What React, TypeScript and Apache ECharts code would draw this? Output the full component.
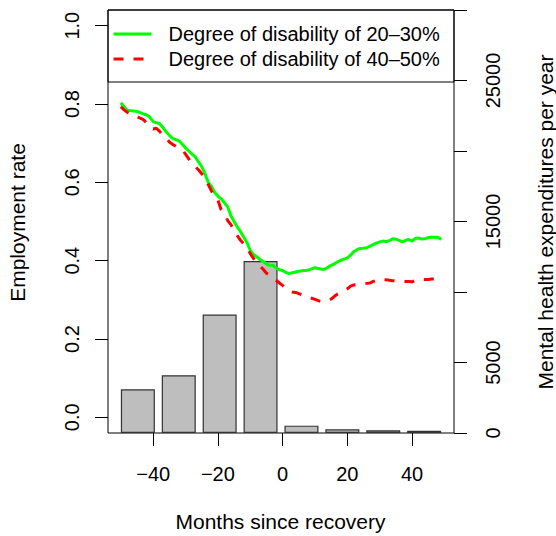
import React, { useEffect, useRef } from "react";
import * as echarts from "echarts";

const months = Array.from({ length: 100 }, (_, i) => i - 50);

const green = [
  0.803, 0.793, 0.784, 0.783, 0.782, 0.781, 0.778, 0.775, 0.772, 0.766,
  0.755, 0.752, 0.750, 0.740, 0.729, 0.720, 0.712, 0.709, 0.706, 0.697,
  0.688, 0.680, 0.672, 0.665, 0.652, 0.640, 0.622, 0.600, 0.590, 0.574,
  0.565, 0.558, 0.548, 0.538, 0.515, 0.500, 0.486, 0.474, 0.460, 0.446,
  0.426, 0.416, 0.410, 0.403, 0.398, 0.392, 0.388, 0.388, 0.381, 0.377,
  0.375, 0.370, 0.367, 0.369, 0.371, 0.373, 0.374, 0.375, 0.376, 0.379,
  0.382, 0.380, 0.378, 0.378, 0.383, 0.388, 0.392, 0.397, 0.401, 0.404,
  0.407, 0.414, 0.423, 0.428, 0.431, 0.432, 0.433, 0.437, 0.441, 0.445,
  0.448, 0.450, 0.449, 0.451, 0.456, 0.455, 0.452, 0.448, 0.452, 0.454,
  0.450, 0.457, 0.458, 0.455, 0.456, 0.459, 0.460, 0.460, 0.460, 0.454,
];

const red = [
  0.793, 0.785, 0.779, 0.774, 0.770, 0.767, 0.764, 0.760, 0.751, 0.741,
  0.736, 0.738, 0.730, 0.720, 0.712, 0.703, 0.697, 0.692, 0.687, 0.683,
  0.672, 0.660, 0.647, 0.640, 0.632, 0.622, 0.613, 0.595, 0.578, 0.564,
  0.555, 0.530, 0.520, 0.503, 0.492, 0.480, 0.464, 0.452, 0.443, 0.433,
  0.418, 0.406, 0.394, 0.386, 0.378, 0.368, 0.363, 0.357, 0.350, 0.343,
  0.337, 0.327, 0.323, 0.320, 0.319, 0.316, 0.313, 0.310, 0.307, 0.304,
  0.301, 0.298, 0.295, 0.298, 0.300, 0.302, 0.309, 0.315, 0.319, 0.323,
  0.328, 0.335, 0.338, 0.339, 0.340, 0.341, 0.342, 0.343, 0.347, 0.350,
  0.353, 0.352, 0.351, 0.350, 0.349, 0.348, 0.348, 0.348, 0.347, 0.347,
  0.346, 0.350, 0.353, 0.352, 0.352, 0.352, 0.353, 0.353, 0.350, 0.340,
];

const barPositions = [0.7, 1.9, 3.1, 4.3, 5.5, 6.7, 7.9, 9.1];
const barValues = [3100, 4100, 8400, 12200, 520, 260, 190, 165];

const xTicks = [-40, -20, 0, 20, 40];
const leftTicks = [0, 0.2, 0.4, 0.6, 0.8, 1.0];
const rightTicks = [0, 5000, 10000, 15000, 20000, 25000, 30000];
const rightLabels = [0, 5000, 15000, 25000];

const seriesNames = [
  "Degree of disability of 20–30%",
  "Degree of disability of 40–50%",
];
const xTitle = "Months since recovery";
const leftTitle = "Employment rate";
const rightTitle = "Mental health expenditures per year";

const FONT = "'Liberation Sans', Arial, Helvetica, sans-serif";

export default function App() {
  const ref = useRef<HTMLDivElement>(null);
  useEffect(() => {
    if (!ref.current) return;
    const chart = echarts.init(ref.current, null, { renderer: "svg" });
    const L = 108, R = 454, T = 10, B = 433;
    const option = {
      animation: false,
      backgroundColor: "#ffffff",
      textStyle: { fontFamily: FONT },
      grid: {
        left: L,
        right: 556 - R,
        top: T,
        bottom: 536 - B,
        show: true,
        borderColor: "#000",
        borderWidth: 1,
        backgroundColor: "transparent",
      },
      legend: {
        orient: "vertical",
        left: 112,
        top: 24,
        padding: 0,
        itemWidth: 38,
        itemHeight: 20,
        itemGap: 5,
        textStyle: {
          fontSize: 20,
          color: "#000",
          fontFamily: FONT,
          padding: [0, 0, 0, 12],
        },
        itemStyle: { opacity: 0 },
        lineStyle: { width: 3 },
        data: seriesNames,
      },
      xAxis: [
        {
          type: "value",
          min: -53.96,
          max: 52.96,
          position: "bottom",
          axisLine: { show: false, onZero: false },
          splitLine: { show: false },
          axisTick: {
            show: true,
            length: 13,
            customValues: xTicks,
            lineStyle: { color: "#000", width: 1 },
          },
          axisLabel: {
            customValues: xTicks,
            fontSize: 20,
            color: "#000",
            fontFamily: FONT,
            margin: 31,
            formatter: (v: number) => (v < 0 ? "\u2212" + Math.abs(v) : String(v)),
          },
        },
        {
          type: "value",
          min: -0.176,
          max: 9.976,
          show: false,
          axisLine: { show: false, onZero: false },
        },
      ],
      yAxis: [
        {
          type: "value",
          min: -0.04,
          max: 1.04,
          position: "left",
          axisLine: { show: false, onZero: false },
          splitLine: { show: false },
          axisTick: {
            show: true,
            length: 13,
            customValues: leftTicks,
            lineStyle: { color: "#000", width: 1 },
          },
          axisLabel: {
            customValues: leftTicks,
            rotate: 90,
            align: "center",
            verticalAlign: "middle",
            fontSize: 20,
            color: "#000",
            fontFamily: FONT,
            margin: 36,
            formatter: (v: number) => v.toFixed(1),
          },
        },
        {
          type: "value",
          min: 0,
          max: 30000,
          position: "right",
          axisLine: { show: false, onZero: false },
          splitLine: { show: false },
          axisTick: {
            show: true,
            length: 13,
            customValues: rightTicks,
            lineStyle: { color: "#000", width: 1 },
          },
          axisLabel: {
            customValues: rightLabels,
            rotate: 90,
            align: "center",
            verticalAlign: "middle",
            fontSize: 20,
            color: "#000",
            fontFamily: FONT,
            margin: 39,
            formatter: (v: number) => String(v),
          },
        },
      ],
      series: [
        {
          type: "bar",
          xAxisIndex: 1,
          yAxisIndex: 1,
          barWidth: 34,
          z: 1,
          itemStyle: { color: "#bebebe", borderColor: "#333", borderWidth: 1.2 },
          data: barPositions.map((p, i) => [p, barValues[i]]),
        },
        {
          name: seriesNames[0],
          type: "line",
          xAxisIndex: 0,
          yAxisIndex: 0,
          symbol: "none",
          z: 3,
          lineStyle: { color: "#00ff00", width: 3 },
          itemStyle: { color: "#00ff00" },
          data: months.map((m, i) => [m, green[i]]),
        },
        {
          name: seriesNames[1],
          type: "line",
          xAxisIndex: 0,
          yAxisIndex: 0,
          symbol: "none",
          z: 3,
          lineStyle: { color: "#ff0000", width: 3, type: [10, 10] },
          itemStyle: { color: "#ff0000" },
          data: months.map((m, i) => [m, red[i]]),
        },
      ],
      graphic: [
        {
          type: "rect",
          shape: { x: L, y: T, width: R - L, height: 72 },
          style: { fill: "none", stroke: "#000", lineWidth: 1 },
          z: 10,
        },
        {
          type: "text",
          x: 280.5,
          y: 521.5,
          style: {
            text: xTitle,
            fontSize: 21,
            fontFamily: FONT,
            fill: "#000",
            align: "center",
            verticalAlign: "middle",
          },
        },
        {
          type: "text",
          x: 17.5,
          y: 222.5,
          rotation: Math.PI / 2,
          style: {
            text: leftTitle,
            fontSize: 21,
            fontFamily: FONT,
            fill: "#000",
            align: "center",
            verticalAlign: "middle",
          },
        },
        {
          type: "text",
          x: 545,
          y: 222,
          rotation: Math.PI / 2,
          style: {
            text: rightTitle,
            fontSize: 21,
            fontFamily: FONT,
            fill: "#000",
            align: "center",
            verticalAlign: "middle",
          },
        },
      ],
    };
    chart.setOption(option as any);
    return () => chart.dispose();
  }, []);
  return (
    <div
      ref={ref}
      style={{ position: "fixed", left: 0, top: 0, width: 556, height: 536 }}
    />
  );
}
